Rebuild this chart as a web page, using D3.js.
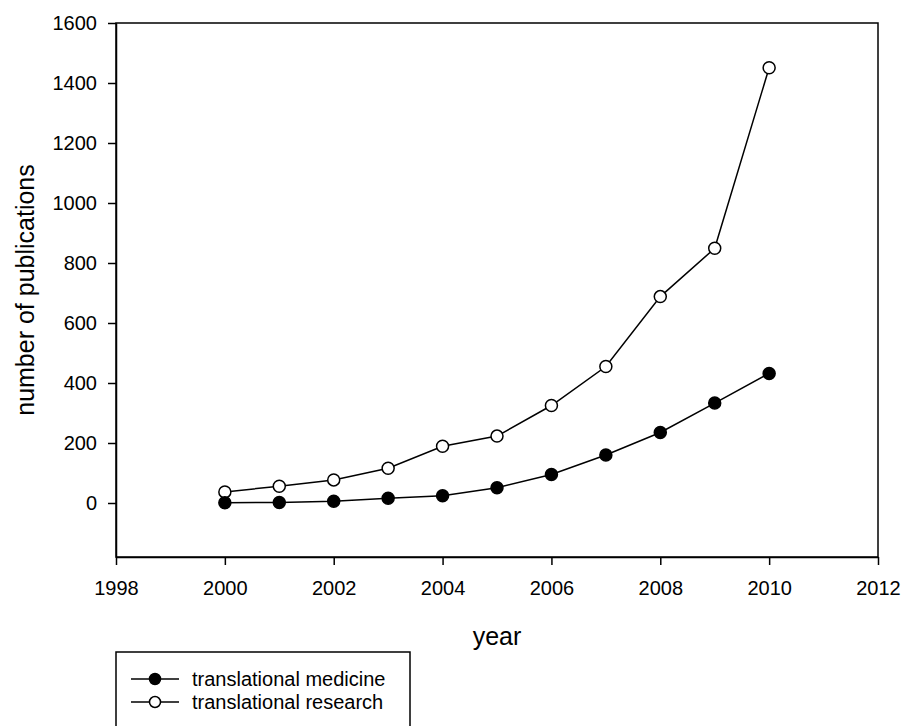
<!DOCTYPE html>
<html>
<head>
<meta charset="utf-8">
<script src="https://cdn.jsdelivr.net/npm/d3@7"></script>
<style>
  html, body { margin: 0; padding: 0; background: #fff; }
  svg { display: block; font-family: "Liberation Sans", Arial, sans-serif; }
</style>
</head>
<body>
<svg id="chart" width="903" height="726"></svg>
<script>
const years = [2000, 2001, 2002, 2003, 2004, 2005, 2006, 2007, 2008, 2009, 2010];
const medicine = [1, 2, 6, 16, 24, 51, 95, 160, 235, 333, 432];
const research = [37, 56, 77, 116, 189, 223, 325, 455, 688, 849, 1451];
const xTicks = [1998, 2000, 2002, 2004, 2006, 2008, 2010, 2012];
const yTicks = [0, 200, 400, 600, 800, 1000, 1200, 1400, 1600];
const seriesNames = ["translational medicine", "translational research"];

(function () {
const svg = d3.select("#chart");
const pL = 116, pR = 878, pT = 23, pB = 557;

const x = d3.scaleLinear().domain([1998, 2012]).range([pL, pR]);
const y = d3.scaleLinear().domain([-180, 1600]).range([pB, pT]);

// frame
svg.append("rect")
  .attr("x", pL).attr("y", pT)
  .attr("width", pR - pL).attr("height", pB - pT)
  .attr("fill", "none").attr("stroke", "#000").attr("stroke-width", 1.5);

// axes
const xAxis = svg.append("g").attr("transform", `translate(0,${pB})`)
  .call(d3.axisBottom(x).tickValues(xTicks).tickFormat(d3.format("d"))
    .tickSizeInner(8).tickSizeOuter(0).tickPadding(16));
const yAxis = svg.append("g").attr("transform", `translate(${pL},0)`)
  .call(d3.axisLeft(y).tickValues(yTicks).tickFormat(d3.format("d"))
    .tickSizeInner(8).tickSizeOuter(0).tickPadding(11));
[xAxis, yAxis].forEach(g => {
  g.select(".domain").attr("stroke", "#000").attr("stroke-width", 1.5);
  g.selectAll(".tick line").attr("stroke", "#000").attr("stroke-width", 1.5);
  g.selectAll(".tick text").attr("fill", "#000").style("font-size", "20px")
    .style("font-family", "'Liberation Sans', Arial, sans-serif");
});

// axis titles
svg.append("text")
  .attr("x", (pL + pR) / 2).attr("y", 645)
  .attr("text-anchor", "middle").style("font-size", "25px").attr("fill", "#000")
  .text("year");
svg.append("text")
  .attr("transform", `translate(34,${(pT + pB) / 2}) rotate(-90)`)
  .attr("text-anchor", "middle").style("font-size", "25px").attr("fill", "#000")
  .text("number of publications");

const line = d3.line().x((d, i) => x(years[i])).y(d => y(d));

function drawSeries(vals, fill) {
  svg.append("path").datum(vals)
    .attr("d", line).attr("fill", "none").attr("stroke", "#000").attr("stroke-width", 1.5);
  svg.append("g").selectAll("circle").data(vals).join("circle")
    .attr("cx", (d, i) => x(years[i])).attr("cy", d => y(d))
    .attr("r", 6).attr("fill", fill).attr("stroke", "#000").attr("stroke-width", 1.5);
}
drawSeries(research, "#fff");
drawSeries(medicine, "#000");

// legend
const lg = svg.append("g");
lg.append("rect")
  .attr("x", pL).attr("y", 652).attr("width", 410 - pL).attr("height", 100)
  .attr("fill", "#fff").attr("stroke", "#000").attr("stroke-width", 1.5);
const fills = ["#000", "#fff"];
seriesNames.forEach((name, i) => {
  const cy = 679 + i * 23;
  lg.append("line").attr("x1", 131).attr("x2", 179).attr("y1", cy).attr("y2", cy)
    .attr("stroke", "#000").attr("stroke-width", 1.5);
  lg.append("circle").attr("cx", 155).attr("cy", cy).attr("r", 5.5)
    .attr("fill", fills[i]).attr("stroke", "#000").attr("stroke-width", 1.5);
  lg.append("text").attr("x", 192).attr("y", cy).attr("dy", "0.35em")
    .style("font-size", "20px").attr("fill", "#000").text(name);
});
})();
</script>
</body>
</html>
